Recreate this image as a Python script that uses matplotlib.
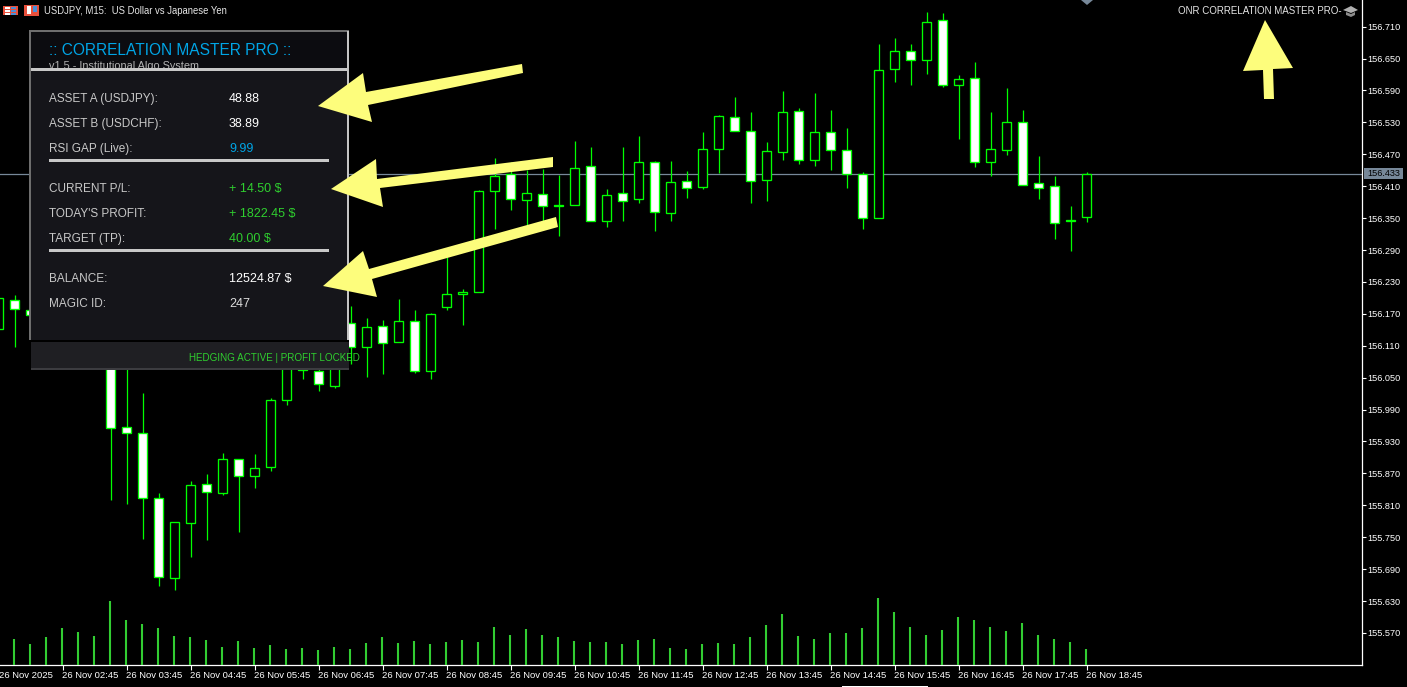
import matplotlib
matplotlib.use("Agg")
import matplotlib.pyplot as plt
from matplotlib.patches import Rectangle, Polygon

# USDJPY M15 candles, one every 15 min starting 01:45
open_ = [156.141, 156.196, 156.177, 156.168, 156.150, 156.135, 156.155, 156.111, 155.957, 155.946,
         155.824, 155.673, 155.777, 155.850, 155.833, 155.897, 155.865, 155.882, 156.008, 156.079,
         156.062, 156.034, 156.153, 156.108, 156.147, 156.117, 156.156, 156.062, 156.183, 156.207,
         156.211, 156.401, 156.433, 156.384, 156.395, 156.374, 156.375, 156.448, 156.344, 156.397,
         156.386, 156.455, 156.360, 156.420, 156.408, 156.480, 156.540, 156.514, 156.422, 156.474,
         156.551, 156.459, 156.512, 156.478, 156.433, 156.350, 156.630, 156.664, 156.647, 156.722,
         156.600, 156.613, 156.455, 156.478, 156.531, 156.416, 156.410, 156.347, 156.352]
high = [156.205, 156.205, 156.185, 156.190, 156.165, 156.170, 156.165, 156.120, 156.110, 156.021,
        155.833, 155.779, 155.856, 155.869, 155.908, 155.897, 155.906, 156.012, 156.102, 156.093,
        156.066, 156.083, 156.185, 156.162, 156.158, 156.198, 156.177, 156.172, 156.277, 156.217,
        156.403, 156.463, 156.455, 156.440, 156.442, 156.431, 156.495, 156.484, 156.405, 156.484,
        156.504, 156.457, 156.457, 156.439, 156.512, 156.544, 156.578, 156.549, 156.493, 156.589,
        156.557, 156.585, 156.553, 156.519, 156.437, 156.677, 156.689, 156.677, 156.737, 156.736,
        156.619, 156.643, 156.549, 156.595, 156.553, 156.467, 156.429, 156.373, 156.437]
low = [156.135, 156.108, 156.162, 156.130, 156.120, 156.110, 156.090, 155.820, 155.812, 155.747,
       155.658, 155.651, 155.713, 155.745, 155.829, 155.760, 155.843, 155.875, 155.999, 156.047,
       156.025, 156.031, 156.076, 156.051, 156.057, 156.117, 156.059, 156.047, 156.177, 156.149,
       156.211, 156.329, 156.365, 156.337, 156.344, 156.316, 156.375, 156.344, 156.333, 156.344,
       156.378, 156.326, 156.344, 156.388, 156.405, 156.435, 156.514, 156.378, 156.382, 156.459,
       156.452, 156.448, 156.440, 156.407, 156.329, 156.350, 156.606, 156.600, 156.621, 156.596,
       156.499, 156.446, 156.429, 156.469, 156.412, 156.386, 156.311, 156.288, 156.343]
close = [156.200, 156.179, 156.168, 156.150, 156.135, 156.155, 156.110, 155.955, 155.946, 155.824,
         155.675, 155.779, 155.848, 155.835, 155.897, 155.865, 155.880, 156.008, 156.087, 156.064,
         156.038, 156.074, 156.108, 156.145, 156.115, 156.156, 156.062, 156.170, 156.207, 156.211,
         156.401, 156.429, 156.386, 156.397, 156.373, 156.372, 156.444, 156.344, 156.393, 156.382,
         156.455, 156.361, 156.418, 156.407, 156.480, 156.542, 156.514, 156.420, 156.476, 156.549,
         156.459, 156.512, 156.478, 156.433, 156.350, 156.628, 156.664, 156.647, 156.719, 156.600,
         156.611, 156.455, 156.480, 156.531, 156.412, 156.407, 156.341, 156.345, 156.433]
volume = [210, 260, 210, 280, 370, 330, 290, 640, 450, 410,
          370, 290, 280, 250, 180, 240, 170, 200, 160, 170,
          150, 180, 160, 220, 280, 220, 240, 210, 230, 250,
          230, 380, 300, 360, 300, 280, 240, 230, 230, 210,
          250, 260, 170, 160, 210, 220, 210, 280, 400, 510,
          290, 260, 320, 320, 370, 670, 530, 380, 300, 350,
          480, 450, 380, 340, 420, 300, 260, 230, 160]

price_ticks = [156.710, 156.650, 156.590, 156.530, 156.470, 156.410, 156.350, 156.290, 156.230,
               156.170, 156.110, 156.050, 155.990, 155.930, 155.870, 155.810, 155.750, 155.690,
               155.630, 155.570]
time_ticks = ["26 Nov 2025", "26 Nov 02:45", "26 Nov 03:45", "26 Nov 04:45", "26 Nov 05:45",
              "26 Nov 06:45", "26 Nov 07:45", "26 Nov 08:45", "26 Nov 09:45", "26 Nov 10:45",
              "26 Nov 11:45", "26 Nov 12:45", "26 Nov 13:45", "26 Nov 14:45", "26 Nov 15:45",
              "26 Nov 16:45", "26 Nov 17:45", "26 Nov 18:45"]
last_price = 156.433

panel_rows = [("ASSET A (USDJPY):", "48.88", "#ffffff", 99),
              ("ASSET B (USDCHF):", "38.89", "#ffffff", 124),
              ("RSI GAP (Live):", "9.99", "#00a5e6", 149),
              ("CURRENT P/L:", "+ 14.50 $", "#2fcf2f", 189),
              ("TODAY'S PROFIT:", "+ 1822.45 $", "#2fcf2f", 214),
              ("TARGET (TP):", "40.00 $", "#2fcf2f", 239),
              ("BALANCE:", "12524.87 $", "#ffffff", 279),
              ("MAGIC ID:", "247", "#dcdcdc", 304)]

W, H = 1407, 687
LIME = "#00ff00"
plt.rcParams["font.family"] = ["Liberation Sans", "DejaVu Sans"]

fig = plt.figure(figsize=(W / 100, H / 100), dpi=100, facecolor="black")
pos = [0, 1 - 665 / H, 1362 / W, 665 / H]
ax = fig.add_axes(pos, facecolor="black")
xs = list(range(len(open_)))

ax.axhline(last_price, color="#778899", lw=0.9, zorder=1)
ax.vlines(xs, low, high, color=LIME, lw=0.9, zorder=2)
for i in xs:
    bear = close[i] < open_[i]
    ax.bar(i, abs(close[i] - open_[i]), bottom=min(open_[i], close[i]), width=0.6,
           facecolor="white" if bear else "black", edgecolor=LIME, lw=0.95, zorder=3)

ax.yaxis.tick_right()
ax.set_yticks(price_ticks)
ax.set_yticklabels(["%.3f" % p for p in price_ticks], fontsize=6.6, color="white", ha="left")
# first label sits on a tick off the left edge, that one gets drawn by hand below
ax.set_xticks([i * 4 for i in range(1, len(time_ticks))])
ax.set_xticklabels(time_ticks[1:], fontsize=6.8, color="white", ha="left")
ax.set_xlim(0.09375, 85.21875)
ax.set_ylim(155.5098, 156.760)
ax.tick_params(axis="y", colors="white", length=3, width=0.8, pad=0.5)
ax.tick_params(axis="x", colors="white", length=3.5, width=0.8, pad=1)
for side in ["top", "left"]:
    ax.spines[side].set_visible(False)
for side in ["right", "bottom"]:
    ax.spines[side].set_color("white")
    ax.spines[side].set_linewidth(0.9)

vol_ax = fig.add_axes(pos, facecolor="none", frameon=False)
vol_ax.vlines(xs, 0, volume, color="#32cd32", lw=1.5)
vol_ax.set_xticks([])
vol_ax.set_yticks([])
vol_ax.set_xlim(0.125, 85.25)
vol_ax.set_ylim(0, 6650)

# overlay in pixel coords for the panel, arrows and the rest of the terminal stuff
ov = fig.add_axes([0, 0, 1, 1], facecolor="none", frameon=False)
ov.set_xlim(0, W)
ov.set_ylim(H, 0)
ov.set_xticks([])
ov.set_yticks([])


def box(x0, y0, x1, y1, color, z=5):
    ov.add_patch(Rectangle((x0, y0), x1 - x0, y1 - y0, facecolor=color, edgecolor="none", zorder=z))


def txt(x, y, s, color, size, z=8, **kw):
    ov.text(x, y, s, color=color, fontsize=size, va="center", ha=kw.pop("ha", "left"), zorder=z, **kw)


txt(-1, 675, time_ticks[0], "white", 6.8)

# panel
box(29, 30, 349, 342, "#6e6e6e", 5)
box(31, 32, 347, 69, "#0c0c10", 5.1)
txt(49, 50.5, ":: CORRELATION MASTER PRO ::", "#00a5e6", 11.2, z=6)
txt(49, 66, "v1.5 - Institutional Algo System", "#b4b4b4", 7.8, z=6)
box(347, 31, 349, 342, "#c4c4c4", 6.5)
box(31, 71, 347, 340, "#15151a", 7)
box(31, 68, 347, 71, "#c8c8c8", 7)
box(29, 340, 349, 342, "#000000", 7)
box(31, 342, 349, 368, "#1f1f23", 7)
box(31, 368, 349, 370, "#3c3c40", 7)
for label, value, col, y in panel_rows:
    txt(49, y, label, "#c8c8c8", 8.5)
    txt(229, y, value, col, 9)
box(49, 159, 329, 162, "#c8c8c8", 7.5)
box(49, 249, 329, 252, "#c8c8c8", 7.5)
txt(189, 358, "HEDGING ACTIVE | PROFIT LOCKED", "#2fcf2f", 7.15)

# yellow arrows
arrows = [
    [(318, 106), (363, 73), (366, 92), (522, 64), (523, 73), (368, 105), (372, 122)],
    [(331, 189), (376, 159), (377, 179), (553, 157), (553, 167), (380, 188), (383, 207)],
    [(323, 286), (363, 251), (369, 269), (556, 217), (558, 227), (372, 279), (377, 297)],
    [(1265, 20), (1243, 71), (1263, 70), (1264, 99), (1274, 99), (1273, 69), (1293, 68)],
]
for a in arrows:
    ov.add_patch(Polygon(a, closed=True, facecolor="#fdfd7c", edgecolor="none", zorder=9))

# top bar
txt(44, 10.5, "USDJPY, M15:  US Dollar vs Japanese Yen", "#e6e6e6", 6.85)
txt(1178, 10.5, "ONR CORRELATION MASTER PRO-", "#e6e6e6", 7.0)
box(3, 6, 18, 15, "#e8503c")
for cx in (5, 11):
    for cy in (7, 10, 13):
        box(cx, cy, cx + 5, cy + 1.6, "#ffffff" if cx == 5 else "#4a8fd8", 5.2)
box(24, 5, 39, 16, "#e8503c")
box(27, 6, 31, 14, "#ffffff", 5.2)
box(33, 6, 37, 12, "#4a8fd8", 5.2)
# mortarboard
ov.add_patch(Polygon([(1343, 10), (1351, 6), (1358, 10), (1351, 13)], facecolor="#b0b0b0", zorder=5))
ov.add_patch(Polygon([(1346, 12), (1351, 14), (1355, 12), (1355, 15), (1351, 17), (1346, 15)],
                     facecolor="#8c8c8c", zorder=5))
# top marker and scrollbar
ov.add_patch(Polygon([(1081, 0), (1093, 0), (1087, 5)], facecolor="#778899", zorder=5))
box(842, 685.5, 928, 687, "#ffffff")

# last price tag
box(1364, 168, 1403, 179, "#778899")
txt(1367, 173.5, "%.3f" % last_price, "#000000", 6.6)

fig.savefig("out.png", dpi=100, facecolor="black")
